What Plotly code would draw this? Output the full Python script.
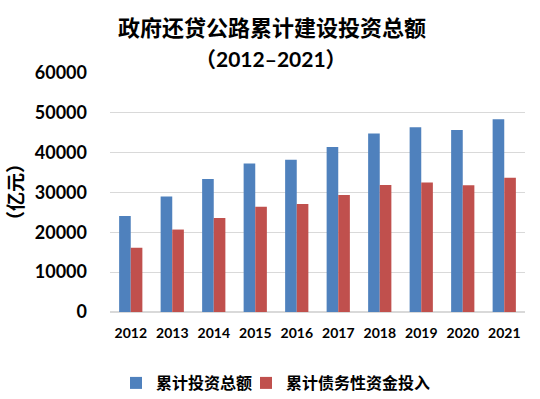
import plotly.graph_objects as go

years = ["2012", "2013", "2014", "2015", "2016", "2017", "2018", "2019", "2020", "2021"]
total_invest = [24100, 29000, 33400, 37300, 38200, 41400, 44800, 46400, 45700, 48400]
debt_invest = [16100, 20700, 23600, 26400, 27100, 29400, 31900, 32500, 31800, 33700]
series_names = ["累计投资总额", "累计债务性资金投入"]
y_ticks = [0, 10000, 20000, 30000, 40000, 50000, 60000]
y_tick_text = ["0", "10000", "20000", "30000", "40000", "50000", "60000"]

FONT = "Lato, 'Noto Sans CJK SC', sans-serif"

fig = go.Figure()
fig.add_trace(go.Bar(x=years, y=total_invest, name=series_names[0], legend="legend",
                     marker=dict(color="#4F81BD", line=dict(width=0))))
fig.add_trace(go.Bar(x=years, y=debt_invest, name=series_names[1], legend="legend2",
                     marker=dict(color="#C0504D", line=dict(width=0))))

L, R, T, B = 110, 15, 73, 87
W, H = 540, 399

legend_common = dict(orientation="h", xanchor="left", xref="container",
                     y=1 - 383 / H, yanchor="middle", yref="container",
                     font=dict(size=16, family=FONT, weight="bold"),
                     itemwidth=30, bgcolor="rgba(0,0,0,0)")

fig.update_layout(
    width=W, height=H,
    margin=dict(l=L, r=R, t=T, b=B, autoexpand=False),
    paper_bgcolor="white", plot_bgcolor="white",
    barmode="group", bargap=0.44, bargroupgap=0,
    font=dict(family=FONT, color="black"),
    showlegend=True,
    legend=dict(x=116 / W, **legend_common),
    legend2=dict(x=246 / W, **legend_common),
    xaxis=dict(type="category", showgrid=False, showline=False, ticks="", automargin=False,
               tickfont=dict(size=14, family=FONT, weight="bold"), ticklabelstandoff=11),
    yaxis=dict(range=[0, 60000], tickvals=y_ticks, ticktext=y_tick_text, showgrid=True,
               gridcolor="#D9D9D9", automargin=False,
               gridwidth=1, zeroline=True, zerolinecolor="#D9D9D9", showline=False,
               tickfont=dict(size=18, family=FONT, weight="bold"), ticklabelstandoff=22),
)

pw = W - L - R
ph = H - T - B


def px2paper(px, py):
    return (px - L) / pw, (H - py - B) / ph


ann = [
    ("政府还贷公路累计建设投资总额", 272, 27, 22, 0),
    ("（2012–2021）", 271, 58, 21, 0),
    ("（亿元）", 15, 192, 19, -90),
]
for text, px, py, size, ang in ann:
    ax, ay = px2paper(px, py)
    fig.add_annotation(text=text, x=ax, y=ay, xref="paper", yref="paper",
                       xanchor="center", yanchor="middle", showarrow=False,
                       textangle=ang, font=dict(size=size, family=FONT, weight="bold"))

fig.write_html("out.html", config={"displayModeBar": False},
               post_script="document.body.style.margin='0';")
